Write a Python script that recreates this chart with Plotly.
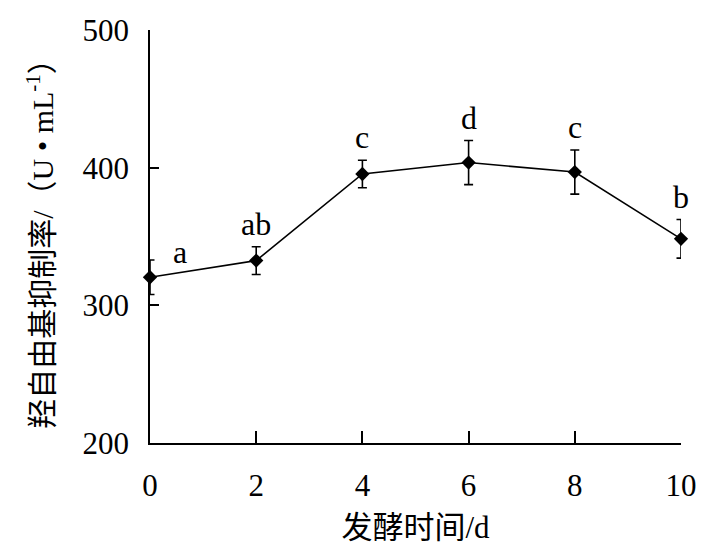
import plotly.graph_objects as go

days = [0, 2, 4, 6, 8, 10]
inhibition = [320.4, 332.5, 395.4, 403.7, 396.8, 348.3]
errors = [12.5, 10.1, 10.0, 16.0, 16.0, 14.0]
letters = ["a", "ab", "c", "d", "c", "b"]
x_ticks = [0, 2, 4, 6, 8, 10]
y_ticks = [200, 300, 400, 500]

FONT = "Liberation Serif, Times New Roman, Noto Sans CJK SC, serif"

fig = go.Figure()
fig.add_trace(go.Scatter(
    x=days, y=inhibition,
    mode="lines+markers",
    line=dict(color="black", width=1.6),
    marker=dict(symbol="diamond", size=11, color="black"),
    error_y=dict(type="data", array=errors, visible=True,
                 color="black", thickness=1.6, width=4.5),
    cliponaxis=False,
    showlegend=False,
))

for i, (xv, yv, ev, lab) in enumerate(zip(days, inhibition, errors, letters)):
    if i == 0:
        fig.add_annotation(x=xv, y=yv + ev, text=lab, showarrow=False,
                           xanchor="center", yanchor="middle",
                           xshift=30, yshift=8,
                           font=dict(family=FONT, size=32, color="black"))
    else:
        fig.add_annotation(x=xv, y=yv + ev, text=lab, showarrow=False,
                           xanchor="center", yanchor="bottom", yshift=3,
                           font=dict(family=FONT, size=32, color="black"))

fig.update_layout(
    width=718, height=557,
    margin=dict(l=142, r=45, t=22, b=122),
    paper_bgcolor="white", plot_bgcolor="white",
    font=dict(family=FONT, size=30, color="black"),
    xaxis=dict(
        range=[0, 10], tickvals=x_ticks, ticktext=[str(v) for v in x_ticks],
        showline=True, linecolor="black", linewidth=1.5,
        ticks="inside", ticklen=12, tickwidth=1.5, tickcolor="black",
        showgrid=False, zeroline=False, automargin=False,
        ticklabelstandoff=14,
        tickfont=dict(family=FONT, size=31),
        title=dict(text="发酵时间/d", standoff=14,
                   font=dict(family=FONT, size=31)),
    ),
    yaxis=dict(
        range=[200, 500], tickvals=y_ticks,
        showline=True, linecolor="black", linewidth=1.5,
        ticks="inside", ticklen=9, tickwidth=1.5, tickcolor="black",
        showgrid=False, zeroline=False, automargin=False,
        ticklabelstandoff=13,
        tickfont=dict(family=FONT, size=31),
        title=dict(text="羟自由基抑制率/（U • mL<sup>-1</sup>）", standoff=20,
                   font=dict(family=FONT, size=30)),
    ),
)

fig.write_html("out.html")
